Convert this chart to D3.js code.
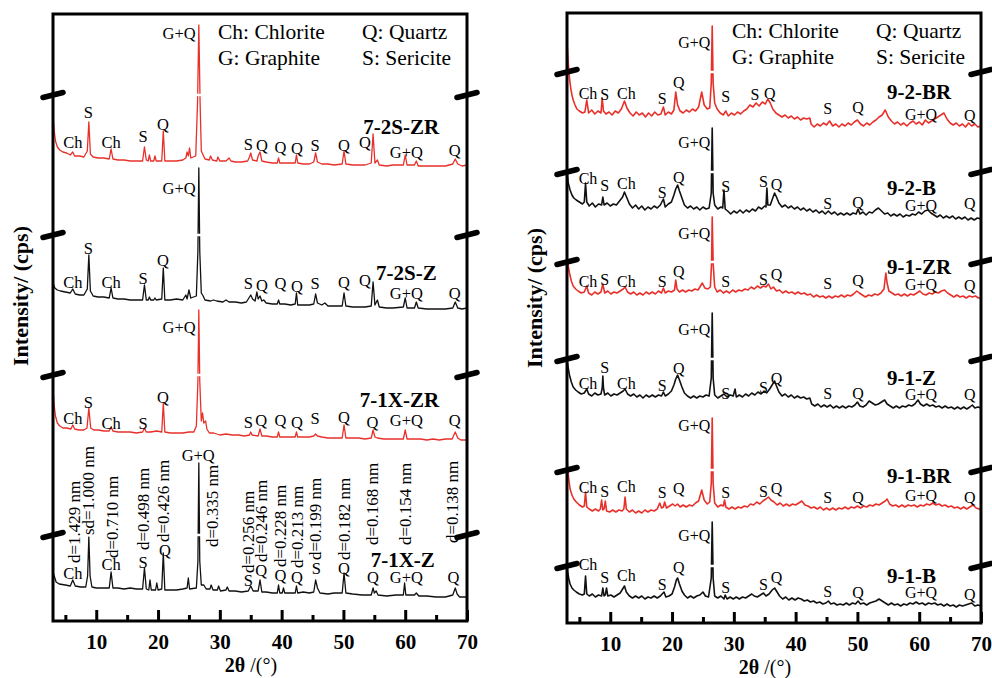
<!DOCTYPE html>
<html>
<head>
<meta charset="utf-8">
<script src="https://cdn.jsdelivr.net/npm/d3@7"></script>
<style>
  body { margin: 0; background: #fff; }
  text { font-family: "Liberation Serif", "Times New Roman", Times, serif; }
</style>
</head>
<body>
<svg id="chart" width="992" height="678"></svg>
<script>
// ---- data (2theta, intensity incl. stacking offset) ----
const xTicksMajor = [10, 20, 30, 40, 50, 60, 70];
const xTicksMinor = [5, 15, 25, 35, 45, 55, 65];
const legendItems = ['Ch: Chlorite', 'Q: Quartz', 'G: Graphite', 'S: Sericite'];

// left panel
const s71XZ = [3,49, 3.5,39, 4,37, 5,36, 5.8,35, 6.2,41, 6.6,35, 7.5,34, 8.3,34, 8.6,45, 8.8,84, 9.0,45, 9.3,34, 10,33, 11,33, 12.1,33, 12.4,49, 12.7,33, 13.5,33, 14.5,32, 15.5,33, 16.5,32, 17.5,32, 17.8,53, 18.1,32, 18.5,31, 18.7,41, 18.9,31, 19.6,31, 19.8,38, 20.0,31, 20.6,32, 20.85,68, 21.1,31, 22,31, 23,31, 24,32, 24.7,33, 24.9,43, 25.1,32, 26.2,33, 26.45,60, 26.6,158, 26.75,60, 27.0,36, 27.4,36, 27.8,32, 28.4,32, 28.6,36, 28.9,31, 29.6,31, 29.8,35, 30.1,30, 31,31, 31.2,34, 31.5,30, 32.5,30, 33.5,29, 34.6,30, 35.0,35, 35.4,30, 36.2,30, 36.5,41, 36.8,29, 37.5,29, 38.5,28, 39.3,28, 39.5,36, 39.7,28, 40.1,28, 40.3,33, 40.5,28, 41.5,28, 42.2,28, 42.4,35, 42.6,28, 43.5,29, 44.5,28, 45.2,29, 45.5,41, 45.8,33, 46.2,28, 47.5,27, 48.5,28, 49.8,28, 50.1,48, 50.4,28, 51.5,27, 53,26, 54.5,26, 54.8,33, 55.0,28, 55.3,30, 55.6,26, 57,25, 58.5,26, 59.7,26, 59.9,38, 60.1,26, 61.5,26, 61.8,28, 62.2,25, 63.5,25, 65,24, 66.5,24, 67.7,26, 68.1,33, 68.4,27, 68.8,24, 70,24];
const s71XZR = [3,232, 3.2,215, 3.4,205, 3.7,198, 4.1,195, 4.6,193, 5.2,193, 5.9,192, 6.2,196, 6.5,192, 7.2,191, 8,191, 8.5,193, 8.8,213, 9.1,193, 9.6,191, 10.4,191, 11.2,190, 12.1,190, 12.4,194, 12.7,190, 13.5,189, 14.5,189, 15.5,189, 16.5,188, 17.5,189, 17.8,193, 18.1,189, 18.8,189, 19.8,190, 20.6,189, 20.85,218, 21.1,189, 22,188, 23,188, 24,188, 25,189, 25.8,189, 26.2,195, 26.45,240, 26.6,311, 26.75,240, 27.0,200, 27.2,208, 27.4,198, 27.7,200, 27.9,192, 28.3,188, 29,188, 30,186, 31,187, 32,186, 33,186, 34,185, 34.8,186, 35.0,189, 35.2,186, 36.2,185, 36.5,192, 36.8,185, 37.5,185, 38.5,184, 39.3,184, 39.5,189, 39.7,184, 40.5,184, 41.5,184, 42.2,184, 42.4,189, 42.6,184, 43.5,184, 44.5,184, 45.2,185, 45.5,187, 45.8,185, 46.5,184, 47.5,183, 48.5,183, 49.8,183, 50.1,196, 50.4,183, 51.5,183, 52.5,183, 53.5,182, 54.5,183, 54.8,191, 55.1,184, 55.5,183, 56.5,182, 57.5,182, 58.5,182, 59.7,182, 60,191, 60.3,182, 61.5,182, 62.5,182, 63.5,181, 64.5,182, 65.5,181, 66.5,182, 67.6,182, 68.1,189, 68.5,183, 69,181, 70,181];
const s72SZ = [3,338, 3.3,333, 3.7,331, 4.2,330, 5,329, 5.8,328, 6.2,332, 6.6,327, 7.3,326, 8,326, 8.55,332, 8.8,366, 9.05,330, 9.5,325, 10.3,324, 11.2,324, 12.1,323, 12.4,333, 12.7,323, 13.5,322, 14.5,322, 15.5,321, 16.5,321, 17.5,321, 17.8,336, 18.1,321, 18.4,321, 18.6,324, 18.8,321, 19.3,321, 19.5,323, 19.7,321, 20.6,322, 20.85,353, 21.1,321, 22,321, 23,322, 24,321, 24.5,326, 24.7,322, 25,331, 25.3,323, 26.2,325, 26.45,370, 26.6,453, 26.75,370, 27.0,328, 27.3,325, 27.6,321, 28.5,320, 29,321, 29.5,320, 30.5,319, 31,321, 31.5,319, 32.5,319, 33.5,318, 34.3,319, 34.8,324, 35.0,326, 35.3,322, 35.7,320, 36.0,329, 36.2,322, 36.5,325, 36.8,320, 37.1,321, 37.5,318, 38.5,317, 39.3,317, 39.5,321, 39.7,317, 40.5,317, 41.5,316, 42.2,317, 42.4,328, 42.6,316, 43.5,316, 44.5,316, 45.2,317, 45.5,327, 45.8,318, 46.5,316, 47,318, 47.5,315, 48.5,315, 49.8,315, 50.1,328, 50.4,315, 51.5,314, 52.5,314, 53.5,314, 54.5,315, 54.8,339, 55.1,316, 55.5,321, 55.8,314, 57,313, 58,313, 59.7,314, 60,323, 60.3,313, 61.5,313, 61.8,319, 62.1,313, 63.5,312, 65,312, 66.5,312, 67.7,313, 68.1,319, 68.5,313, 69.2,312, 70,313];
const s72SZR = [3,506, 3.2,490, 3.4,480, 3.7,474, 4.1,471, 4.6,469, 5.2,468, 5.8,466, 6.2,469, 6.5,465, 7.3,465, 8,464, 8.55,470, 8.8,499, 9.05,467, 9.5,464, 10.3,463, 11.2,463, 12.1,462, 12.4,472, 12.7,462, 13.5,461, 14.5,461, 15.5,460, 16.5,460, 17.5,460, 17.8,474, 18.1,461, 18.4,460, 18.6,466, 18.8,460, 19.3,460, 19.5,465, 19.7,460, 20.6,460, 20.85,490, 21.1,460, 22,460, 23,460, 24,461, 24.5,463, 24.7,469, 24.9,465, 25.1,473, 25.3,463, 26.1,465, 26.4,520, 26.6,596, 26.8,520, 27.0,470, 27.3,466, 27.6,462, 28.3,461, 28.5,465, 28.8,461, 29.5,460, 29.7,464, 30,460, 31,460, 31.5,463, 31.8,460, 32.5,459, 33.5,459, 34.5,460, 34.8,464, 35.0,468, 35.3,461, 36.0,460, 36.2,465, 36.5,469, 36.8,460, 37.5,459, 38.5,458, 39.3,458, 39.5,463, 39.7,458, 40.5,458, 41.5,458, 42.2,458, 42.4,466, 42.6,458, 43.5,457, 44.5,457, 45.2,459, 45.5,468, 45.8,459, 46.5,457, 47.5,457, 48.5,456, 49.8,457, 50.1,470, 50.4,457, 51.5,456, 52.5,456, 53.5,456, 54.5,458, 54.8,487, 55.1,458, 55.5,461, 55.8,456, 57,455, 58,456, 59.7,456, 60,466, 60.3,456, 61.5,456, 61.8,460, 62.1,455, 63.5,455, 65,455, 66.5,455, 67.7,457, 68.1,462, 68.5,457, 69.2,455, 70,456];

// right panel
const s91B = [3,56, 3.15,49, 3.3,44, 3.5,39, 3.8,35, 4.1,33, 4.5,31, 5,29, 5.5,28, 5.8,29, 6.0,47, 6.2,29, 6.6,27, 7.1,29, 7.6,26, 8.1,28, 8.6,27, 8.8,35, 9.0,27, 9.2,28, 9.4,35, 9.6,27, 10.1,28, 10.6,26, 11.1,28, 11.6,30, 12.0,34, 12.3,37, 12.6,31, 13.1,27, 13.6,25, 14.1,27, 14.6,25, 15.1,27, 15.6,24, 16.1,26, 16.6,25, 17.1,27, 17.6,25, 18.1,27, 18.7,31, 19,26, 19.5,27, 20,29, 20.4,36, 20.7,43, 20.9,45, 21.2,39, 21.6,32, 22,28, 22.5,25, 23,27, 23.5,25, 24,27, 24.5,28, 25,31, 25.4,27, 25.9,26, 26.35,45, 26.5,101, 26.65,45, 26.9,27, 27.4,25, 27.9,27, 28.4,24, 28.6,28, 28.9,24, 29.4,26, 29.9,24, 30.4,26, 30.9,24, 31.4,26, 31.9,25, 32.4,27, 32.9,29, 33.3,27, 33.8,26, 34.3,28, 34.8,30, 35.2,27, 35.7,29, 36.2,33, 36.6,35, 37,31, 37.4,27, 37.9,24, 38.4,26, 38.9,23, 39.4,25, 39.9,23, 40.4,25, 40.9,24, 41.4,22, 41.9,23, 42.4,21, 42.9,22, 43.4,20, 43.9,21, 44.4,19, 44.9,20, 45.3,22, 45.7,19, 46.2,20, 46.7,18, 47.2,19, 47.7,18, 48.2,20, 48.7,18, 49.2,20, 49.7,19, 50.1,22, 50.5,19, 51,20, 51.5,18, 52,20, 52.5,21, 53,22, 53.5,24, 54,22, 54.5,20, 55,18, 55.5,20, 56,18, 56.5,19, 57,17, 57.5,19, 58,18, 58.5,20, 59,19, 59.5,21, 60,19, 60.5,20, 61,18, 61.5,20, 62,19, 62.5,20, 63,18, 63.5,19, 64,17, 64.5,19, 65,17, 65.5,18, 66,16, 66.5,18, 67,17, 67.5,18, 68,19, 68.5,20, 69,17, 69.5,18, 70,17];
const s91BR = [3,165, 3.15,152, 3.3,143, 3.5,134, 3.8,128, 4.1,124, 4.5,121, 5,118, 5.5,116, 5.8,117, 6.0,131, 6.2,116, 6.6,114, 7.1,112, 7.6,114, 8.1,112, 8.4,114, 8.6,123, 8.8,113, 9.0,114, 9.2,122, 9.4,112, 9.9,111, 10.4,113, 10.9,111, 11.4,113, 11.9,112, 12.2,114, 12.4,126, 12.6,114, 13.1,111, 13.6,113, 14.1,110, 14.6,112, 15.1,110, 15.6,113, 16.1,111, 16.6,113, 17.1,112, 17.6,114, 18.0,120, 18.3,115, 18.6,116, 18.8,121, 19.1,115, 19.6,117, 20.1,119, 20.5,117, 20.9,119, 21.3,116, 21.8,118, 22.3,116, 22.8,118, 23.3,117, 23.8,120, 24.3,122, 24.8,133, 25.2,123, 25.7,119, 26.1,121, 26.35,140, 26.5,205, 26.65,140, 26.9,120, 27.4,116, 27.9,118, 28.3,117, 28.5,123, 28.7,116, 29.2,114, 29.7,116, 30.2,114, 30.7,116, 31.2,115, 31.7,117, 32.2,116, 32.7,119, 33.2,118, 33.7,121, 34.2,119, 34.7,122, 35.2,124, 35.6,126, 36,123, 36.5,121, 37,118, 37.5,120, 38,117, 38.5,119, 39,117, 39.5,119, 40,118, 40.5,120, 41,122, 41.5,118, 42,117, 42.5,115, 43,116, 43.5,114, 44,116, 44.5,113, 45,115, 45.5,113, 46,115, 46.5,113, 47,115, 47.5,114, 48,116, 48.5,114, 49,116, 49.5,115, 50,117, 50.5,115, 51,117, 51.5,116, 52,118, 52.5,117, 53,119, 53.5,118, 54,120, 54.5,122, 54.8,124, 55.2,119, 55.7,117, 56.2,118, 56.7,116, 57.2,118, 57.7,116, 58.2,118, 58.7,117, 59.2,118, 59.7,116, 60.2,118, 60.7,117, 61.2,119, 61.7,118, 62.2,120, 62.7,118, 63.2,119, 63.7,117, 64.2,118, 64.7,116, 65.2,117, 65.7,115, 66.2,116, 66.7,114, 67.2,116, 67.7,114, 68.2,116, 68.7,118, 69.2,115, 69.7,114, 70,113];
const s91Z = [3,263, 3.2,255, 3.4,248, 3.7,241, 4,236, 4.4,233, 4.8,231, 5.3,229, 5.8,230, 6.2,234, 6.5,229, 7,227, 7.5,230, 8,228, 8.5,229, 8.7,235, 8.8,247, 8.9,235, 9.1,228, 9.6,230, 10.1,227, 10.6,229, 11.1,228, 11.6,230, 12.1,232, 12.4,234, 12.8,229, 13.3,227, 13.8,229, 14.3,226, 14.8,228, 15.3,225, 15.8,228, 16.3,226, 16.8,228, 17.3,226, 17.8,228, 18.3,227, 18.6,231, 18.9,227, 19.4,229, 19.9,232, 20.3,238, 20.6,244, 20.9,248, 21.2,243, 21.6,236, 22,230, 22.5,227, 23,225, 23.5,227, 24,225, 24.5,227, 25,226, 25.5,228, 26,227, 26.35,245, 26.5,310, 26.65,245, 26.9,228, 27.4,225, 27.9,227, 28.4,229, 28.9,226, 29.4,228, 29.9,227, 30.2,234, 30.4,226, 30.9,228, 31.4,226, 31.9,229, 32.4,227, 32.9,230, 33.4,228, 33.9,231, 34.4,229, 34.9,232, 35.3,230, 35.8,234, 36.2,238, 36.6,242, 36.9,237, 37.3,231, 37.8,227, 38.3,229, 38.8,226, 39.3,228, 39.8,225, 40.3,227, 40.8,225, 41.3,226, 41.8,224, 42.3,225, 42.6,219, 43.1,217, 43.6,219, 44.1,216, 44.6,218, 45.1,216, 45.6,218, 46.1,215, 46.6,217, 47.1,215, 47.6,217, 48.1,215, 48.6,217, 49.1,216, 49.6,218, 50,221, 50.4,217, 50.9,216, 51.4,218, 51.9,222, 52.4,220, 52.9,218, 53.4,219, 53.9,221, 54.4,223, 54.8,219, 55.3,217, 55.8,215, 56.3,217, 56.8,215, 57.3,217, 57.8,216, 58.3,218, 58.8,217, 59.3,219, 59.8,223, 60.2,219, 60.7,217, 61.2,219, 61.7,217, 62.2,218, 62.7,216, 63.2,217, 63.7,215, 64.2,217, 64.7,215, 65.2,216, 65.7,214, 66.2,216, 66.7,214, 67.2,216, 67.7,214, 68.2,216, 68.6,218, 69,215, 69.5,216, 70,215];
const s91ZR = [3,366, 3.2,357, 3.4,350, 3.7,342, 4,337, 4.4,334, 4.8,332, 5.3,330, 5.8,331, 6.2,337, 6.5,330, 7,328, 7.5,331, 8,329, 8.5,331, 8.8,339, 9.1,330, 9.6,332, 10.1,329, 10.6,331, 11.1,330, 11.6,332, 12.1,334, 12.4,336, 12.8,331, 13.3,329, 13.8,331, 14.3,328, 14.8,330, 15.3,328, 15.8,331, 16.3,329, 16.8,331, 17.3,329, 17.8,332, 18.3,330, 18.6,335, 18.9,330, 19.4,332, 19.9,331, 20.4,333, 20.6,343, 20.8,334, 21.2,331, 21.7,333, 22.2,331, 22.7,333, 23.2,332, 23.7,334, 24.2,333, 24.6,337, 24.9,340, 25.3,335, 25.8,334, 26.2,336, 26.4,360, 26.5,406, 26.65,360, 26.9,336, 27.3,331, 27.8,333, 28.3,330, 28.8,332, 29.3,330, 29.8,333, 30.3,331, 30.8,333, 31.3,332, 31.8,334, 32.3,333, 32.8,336, 33.3,334, 33.8,337, 34.3,335, 34.8,337, 35.2,336, 35.6,339, 36,334, 36.4,336, 36.9,332, 37.4,333, 37.9,330, 38.4,332, 38.9,330, 39.4,331, 39.9,329, 40.4,331, 40.9,329, 41.4,330, 41.9,328, 42.4,329, 42.9,326, 43.4,328, 43.9,326, 44.4,327, 44.9,325, 45.4,327, 45.9,325, 46.4,327, 46.9,326, 47.4,328, 47.9,326, 48.4,328, 48.9,327, 49.4,329, 49.9,332, 50.3,330, 50.8,328, 51.3,326, 51.8,328, 52.3,327, 52.8,329, 53.3,328, 53.8,330, 54.3,334, 54.6,350, 54.8,340, 55.1,332, 55.6,330, 56.1,328, 56.6,329, 57.1,327, 57.6,329, 58.1,327, 58.6,329, 59.1,328, 59.6,330, 60.1,332, 60.6,329, 61.1,328, 61.6,330, 62.1,329, 62.6,331, 63.1,330, 63.6,332, 64.1,333, 64.6,330, 65.1,328, 65.6,326, 66.1,328, 66.6,326, 67.1,327, 67.6,325, 68.1,327, 68.6,326, 69.1,327, 69.6,325, 70,325];
const s92B = [3,451, 3.2,440, 3.5,433, 3.8,428, 4.1,425, 4.5,423, 5,421, 5.5,419, 5.8,421, 6.0,440, 6.2,421, 6.6,417, 7.1,420, 7.6,416, 8.1,419, 8.6,418, 8.8,426, 9.0,418, 9.5,420, 10,417, 10.5,419, 11,418, 11.5,422, 12,426, 12.3,431, 12.7,425, 13.1,419, 13.6,415, 14.1,418, 14.6,414, 15.1,417, 15.6,413, 16.1,416, 16.6,414, 17.1,417, 17.6,415, 18.1,418, 18.6,424, 18.9,416, 19.4,419, 19.9,421, 20.3,428, 20.6,434, 20.9,438, 21.2,432, 21.6,425, 22,418, 22.5,415, 23,417, 23.5,414, 24,416, 24.5,413, 25,416, 25.5,414, 26,415, 26.35,430, 26.5,495, 26.65,430, 26.9,418, 27.4,414, 27.9,416, 28.2,415, 28.4,433, 28.6,414, 29,412, 29.5,409, 30,412, 30.5,410, 31,413, 31.5,410, 32,413, 32.5,411, 33,414, 33.5,412, 34,416, 34.5,414, 35,417, 35.2,416, 35.35,435, 35.5,418, 35.9,418, 36.3,425, 36.6,430, 36.9,426, 37.3,420, 37.8,416, 38.3,418, 38.8,415, 39.3,417, 39.8,414, 40.3,416, 40.8,413, 41.3,415, 41.8,412, 42.3,414, 42.8,411, 43.3,413, 43.8,410, 44.3,412, 44.8,409, 45.3,412, 45.8,409, 46.3,411, 46.8,408, 47.3,410, 47.8,408, 48.3,410, 48.8,408, 49.3,410, 49.8,409, 50.1,414, 50.4,409, 50.9,411, 51.4,408, 51.9,411, 52.4,410, 52.9,413, 53.4,415, 53.9,412, 54.4,409, 54.9,410, 55.4,407, 55.9,409, 56.4,407, 56.9,409, 57.4,406, 57.9,408, 58.4,407, 58.9,409, 59.4,408, 59.9,411, 60.4,409, 60.9,412, 61.4,413, 61.9,410, 62.4,408, 62.9,406, 63.4,408, 63.9,405, 64.4,407, 64.9,405, 65.4,407, 65.9,404, 66.4,406, 66.9,404, 67.4,406, 67.9,403, 68.4,405, 68.9,403, 69.4,405, 70,404];
const s92BR = [3,581, 3.2,560, 3.4,545, 3.6,535, 3.8,528, 4,523, 4.3,518, 4.6,514, 5,512, 5.5,510, 5.9,511, 6.2,523, 6.5,510, 7,513, 7.5,509, 8,512, 8.5,510, 8.7,525, 8.9,512, 9.3,509, 9.8,511, 10.3,508, 10.8,512, 11.3,510, 11.8,514, 12.3,522, 12.7,515, 13.2,510, 13.7,507, 14.2,511, 14.7,508, 15.2,510, 15.7,506, 16.2,510, 16.7,507, 17.2,511, 17.7,508, 18.2,509, 18.6,516, 18.9,508, 19.4,511, 19.9,509, 20.3,513, 20.6,531, 20.9,518, 21.3,512, 21.8,510, 22.3,513, 22.8,511, 23.3,514, 23.8,512, 24.3,516, 24.8,531, 25.2,518, 25.7,514, 26.1,515, 26.35,540, 26.5,597, 26.65,540, 26.9,520, 27.3,514, 27.8,510, 28.3,508, 28.7,512, 29.1,507, 29.6,510, 30.1,508, 30.6,511, 31.1,509, 31.6,512, 32.1,514, 32.6,518, 33.1,516, 33.6,520, 34.1,517, 34.6,521, 35.1,519, 35.5,524, 35.9,520, 36.3,514, 36.8,510, 37.3,508, 37.8,506, 38.3,508, 38.8,505, 39.3,507, 39.8,504, 40.3,506, 40.8,503, 41.3,505, 41.8,504, 42.3,505, 42.5,499, 43,496, 43.5,499, 44,497, 44.5,500, 45,498, 45.5,502, 46,497, 46.5,499, 47,496, 47.5,499, 48,497, 48.5,500, 49,498, 49.5,501, 50,503, 50.5,499, 51,497, 51.5,500, 52,498, 52.5,501, 53,503, 53.5,506, 54,508, 54.5,513, 55,506, 55.5,502, 56,499, 56.5,501, 57,498, 57.5,500, 58,497, 58.5,500, 59,502, 59.5,499, 60,501, 60.5,498, 61,503, 61.5,500, 62,502, 62.5,504, 63,506, 63.5,508, 64,510, 64.5,504, 65,500, 65.5,498, 66,500, 66.5,497, 67,499, 67.5,496, 68,500, 68.5,497, 69,499, 69.5,496, 70,497];

// phase labels [2theta, intensity, text]
const phaseLeft = [
  [6.2,479,'Ch'],[8.7,509,'S'],[12.4,479,'Ch'],[17.6,485,'S'],[20.8,497,'Q'],[23.4,588,'G+Q'],
  [34.6,477,'S'],[36.8,476,'Q'],[39.8,474,'Q'],[42.5,473,'Q'],[45.4,476,'S'],[50.1,476,'Q'],[53.5,479,'Q'],[60.2,469,'G+Q'],[68.0,471,'Q'],
  [6.2,339,'Ch'],[8.7,373,'S'],[12.4,339,'Ch'],[17.6,343,'S'],[20.8,361,'Q'],[23.4,433,'G+Q'],
  [34.6,338,'S'],[36.8,336,'Q'],[39.8,338,'Q'],[42.5,335,'Q'],[45.4,338,'S'],[50.1,339,'Q'],[53.5,341,'Q'],[60.2,328,'G+Q'],[68.0,328,'Q'],
  [6.2,203,'Ch'],[8.7,219,'S'],[12.4,198,'Ch'],[17.6,198,'S'],[20.8,224,'Q'],[23.4,294,'G+Q'],
  [34.6,199,'S'],[36.7,201,'Q'],[39.8,201,'Q'],[42.5,199,'Q'],[45.4,203,'S'],[50.1,204,'Q'],[54.7,199,'Q'],[60.2,201,'G+Q'],[68.0,201,'Q'],
  [6.2,48,'Ch'],[12.4,57,'Ch'],[17.6,59,'S'],[21.1,71,'Q'],[26.5,166,'G+Q'],
  [34.6,41,'S'],[36.7,51,'Q'],[39.8,46,'Q'],[42.5,44,'Q'],[45.6,53,'S'],[50.1,53,'Q'],[54.8,44,'Q'],[60.2,44,'G+Q'],[67.8,44,'Q']
];
const dLabels = [
  [6.4,58,'d=1.429 nm'],[8.7,86,'sd=1.000 nm'],[12.5,63,'d=0.710 nm'],[17.6,71,'d=0.498 nm'],[20.8,79,'d=0.426 nm'],
  [28.7,74,'d=0.335 nm'],[34.6,48,'d=0.256 nm'],[36.7,59,'d=0.246 nm'],[39.7,54,'d=0.228 nm'],[42.5,53,'d=0.213 nm'],
  [45.4,61,'d=0.199 nm'],[50.1,61,'d=0.182 nm'],[54.6,76,'d=0.168 nm'],[60.0,76,'d=0.154 nm'],[67.6,78,'d=0.138 nm']
];
const phaseRight = [
  [6.4,530,'Ch'],[9.1,529,'S'],[12.6,530,'Ch'],[18.4,525,'S'],[21.1,541,'Q'],[23.6,581,'G+Q'],[28.7,527,'S'],[33.4,529,'S'],[35.8,530,'Q'],[45.2,515,'S'],[50.1,516,'Q'],[60.3,509,'G+Q'],[68.2,508,'Q'],
  [6.4,445,'Ch'],[9.1,438,'S'],[12.6,440,'Ch'],[18.4,431,'S'],[21.1,446,'Q'],[23.6,481,'G+Q'],[28.7,437,'S'],[34.8,442,'S'],[36.9,439,'Q'],[45.2,420,'S'],[50.1,421,'Q'],[60.3,418,'G+Q'],[68.2,420,'Q'],
  [6.4,342,'Ch'],[9.1,344,'S'],[12.6,342,'Ch'],[18.4,342,'S'],[21.1,352,'Q'],[23.6,390,'G+Q'],[28.7,342,'S'],[34.8,344,'S'],[36.9,349,'Q'],[45.2,340,'S'],[50.1,343,'Q'],[60.3,339,'G+Q'],[68.2,338,'Q'],
  [6.4,240,'Ch'],[9.1,256,'S'],[12.6,240,'Ch'],[18.4,238,'S'],[21.1,255,'Q'],[23.6,294,'G+Q'],[28.7,230,'S'],[34.8,236,'S'],[36.9,245,'Q'],[45.2,230,'S'],[50.1,230,'Q'],[60.3,229,'G+Q'],[68.2,229,'Q'],
  [6.4,136,'Ch'],[9.1,132,'S'],[12.6,137,'Ch'],[18.4,131,'S'],[21.1,135,'Q'],[23.6,198,'G+Q'],[28.7,131,'S'],[34.8,132,'S'],[36.9,135,'Q'],[45.2,126,'S'],[50.1,126,'Q'],[60.3,128,'G+Q'],[68.2,126,'Q'],
  [6.4,59,'Ch'],[9.1,46,'S'],[12.6,48,'Ch'],[18.4,39,'S'],[21.1,56,'Q'],[23.6,88,'G+Q'],[28.7,36,'S'],[34.8,39,'S'],[36.9,46,'Q'],[45.2,32,'S'],[50.1,31,'Q'],[60.3,31,'G+Q'],[68.2,29,'Q']
];
// sample names [2theta, intensity, name]
const namesLeft = [[65.5,494,'7-2S-ZR'],[65.1,348,'7-2S-Z'],[65.5,221,'7-1X-ZR'],[64.8,61,'7-1X-Z']];
const namesRight = [[54.8,531,'9-2-BR'],[54.8,435,'9-2-B'],[54.8,356,'9-1-ZR'],[54.8,245,'9-1-Z'],[54.8,147,'9-1-BR'],[54.8,47,'9-1-B']];
// axis break levels (intensity)
const breaksLeft = [526, 386, 246, 86];
const breaksRight = [551, 451, 361, 264, 153, 57];

// ---- drawing ----
const RED = '#e8302a', BLACK = '#111';
const svg = d3.select('#chart');

function pts(a) { return d3.range(0, a.length, 2).map(i => [a[i], a[i + 1]]); }

function drawPanel(p) {
  const x = d3.scaleLinear().domain([3, 70]).range([p.x0, p.x1]);
  const y = d3.scaleLinear().domain([0, p.yMax]).range([p.y1, p.y0]);
  const g = svg.append('g');
  const line = d3.line().x(d => x(d[0])).y(d => y(d[1]));

  p.series.forEach(s => {
    g.append('path')
      .attr('d', line(pts(s.data)))
      .attr('fill', 'none')
      .attr('stroke', s.color)
      .attr('stroke-width', p.lw)
      .attr('stroke-linejoin', 'round');
  });

  // white cut through the peaks at each break level
  p.breaks.forEach(b => {
    g.append('line')
      .attr('x1', x(3) + 2).attr('x2', x(70) - 2)
      .attr('y1', y(b)).attr('y2', y(b))
      .attr('stroke', '#fff').attr('stroke-width', 2.5);
  });

  // phase labels
  g.selectAll('text.ph').data(p.phase).enter().append('text')
    .attr('class', 'ph')
    .attr('x', d => x(d[0])).attr('y', d => y(d[1]))
    .attr('dy', '0.35em')
    .attr('text-anchor', 'middle')
    .style('font-size', p.phSize + 'px')
    .text(d => d[2]);

  // d-spacing labels (rotated)
  if (p.dLabels) {
    g.selectAll('text.dl').data(p.dLabels).enter().append('text')
      .attr('class', 'dl')
      .attr('transform', d => 'translate(' + x(d[0]) + ',' + y(d[1]) + ') rotate(-90)')
      .attr('dy', '0.35em')
      .attr('text-anchor', 'start')
      .style('font-size', '17px')
      .text(d => d[2]);
  }

  // sample names
  g.selectAll('text.nm').data(p.names).enter().append('text')
    .attr('class', 'nm')
    .attr('x', d => x(d[0])).attr('y', d => y(d[1]))
    .attr('dy', '0.35em')
    .attr('text-anchor', p.nameAnchor)
    .style('font-size', '21px')
    .style('font-weight', 'bold')
    .text(d => d[2]);

  // legend
  legendItems.forEach((t, i) => {
    g.append('text')
      .attr('x', p.x0 + (i % 2 ? 309 : 165))
      .attr('y', p.y0 + (i < 2 ? 17 : 43))
      .attr('dy', '0.35em')
      .style('font-size', '21.5px')
      .text(t);
  });

  // frame
  g.append('rect')
    .attr('x', p.x0).attr('y', p.y0)
    .attr('width', p.x1 - p.x0).attr('height', p.y1 - p.y0)
    .attr('fill', 'none').attr('stroke', '#000').attr('stroke-width', 3);

  // x axis, ticks pointing inward
  const major = g.append('g').attr('transform', 'translate(0,' + p.y1 + ')')
    .call(d3.axisBottom(x).tickValues(xTicksMajor).tickSize(-11).tickPadding(13));
  major.select('.domain').remove();
  major.selectAll('line').attr('stroke', '#000').attr('stroke-width', 3);
  major.selectAll('text')
    .style('font-family', '"Liberation Serif","Times New Roman",serif')
    .style('font-size', '21px').style('font-weight', 'bold').attr('fill', '#000');

  const minor = g.append('g').attr('transform', 'translate(0,' + p.y1 + ')')
    .call(d3.axisBottom(x).tickValues(xTicksMinor).tickSize(-6).tickFormat(''));
  minor.select('.domain').remove();
  minor.selectAll('line').attr('stroke', '#000').attr('stroke-width', 3);

  // break marks on both side axes
  p.breaks.forEach(b => {
    [p.x0, p.x1].forEach(cx => {
      g.append('line')
        .attr('x1', cx - 10).attr('y1', y(b) + 2.5)
        .attr('x2', cx + 10).attr('y2', y(b) - 2.5)
        .attr('stroke', '#000').attr('stroke-width', 5.5)
        .attr('stroke-linecap', 'round');
    });
  });

  // axis titles
  const xt = g.append('text')
    .attr('x', (p.x0 + p.x1) / 2 - 9).attr('y', p.y1 + 44)
    .attr('dy', '0.35em').attr('text-anchor', 'middle')
    .style('font-size', '20px');
  xt.append('tspan').style('font-weight', 'bold').text('2θ');
  xt.append('tspan').text(' /(°)');

  g.append('text')
    .attr('transform', 'translate(' + (p.x0 - 33) + ',' + p.titleY + ') rotate(-90)')
    .attr('dy', '0.35em').attr('text-anchor', 'middle')
    .style('font-size', '22px').style('font-weight', 'bold')
    .text('Intensity/ (cps)');
}

drawPanel({
  x0: 53, x1: 467, y0: 14, y1: 621, yMax: 607, lw: 1.3, phSize: 16.5, titleY: 296,
  series: [
    { data: s71XZ, color: BLACK }, { data: s71XZR, color: RED },
    { data: s72SZ, color: BLACK }, { data: s72SZR, color: RED }
  ],
  phase: phaseLeft, dLabels: dLabels, names: namesLeft, nameAnchor: 'end', breaks: breaksLeft
});

drawPanel({
  x0: 567, x1: 981, y0: 13, y1: 623, yMax: 610, lw: 1.6, phSize: 16, titleY: 298,
  series: [
    { data: s91B, color: BLACK }, { data: s91BR, color: RED },
    { data: s91Z, color: BLACK }, { data: s91ZR, color: RED },
    { data: s92B, color: BLACK }, { data: s92BR, color: RED }
  ],
  phase: phaseRight, names: namesRight, nameAnchor: 'start', breaks: breaksRight
});
</script>
</body>
</html>
